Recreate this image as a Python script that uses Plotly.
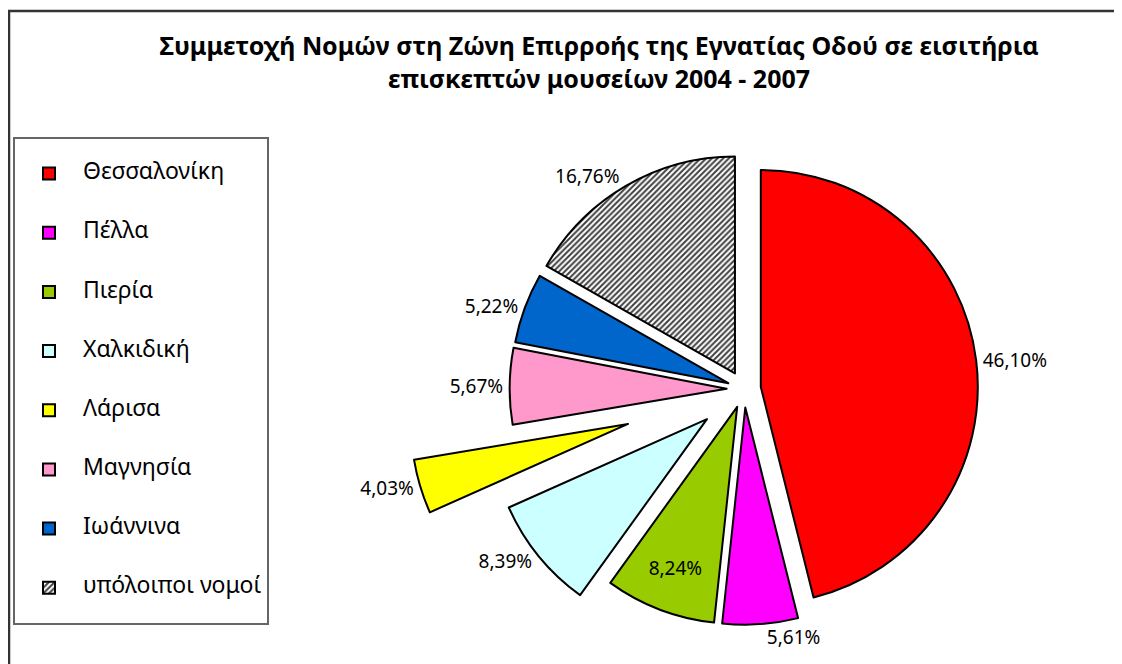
import plotly.graph_objects as go

# ---- data ----
labels = ["Θεσσαλονίκη", "Πέλλα", "Πιερία", "Χαλκιδική", "Λάρισα",
          "Μαγνησία", "Ιωάννινα", "υπόλοιποι νομοί"]
values = [46.10, 5.61, 8.24, 8.39, 4.03, 5.67, 5.22, 16.76]
title_lines = ["Συμμετοχή Νομών στη Ζώνη Επιρροής της Εγνατίας Οδού σε εισιτήρια",
               "επισκεπτών μουσείων 2004 - 2007"]

# ---- styling ----
colors = ["#FF0000", "#FF00FF", "#99CC00", "#CCFFFF", "#FFFF00",
          "#FF99CC", "#0066CC", "#B0B0B0"]
patterns = ["", "", "", "", "", "", "", "/"]
pulls = [0.078, 0.086, 0.088, 0.22, 0.558, 0.08, 0.077, 0.083]
textpos = ["outside", "outside", "inside", "outside", "outside",
           "outside", "outside", "outside"]

OFF = 8  # page body margin
W, H = 1122, 778
cx, cy, r = 744 - OFF, 389 - OFF, 217
half = r * (1 + max(pulls))
dom_x = [(cx - half) / W, (cx + half) / W]
dom_y = [1 - (cy + half) / H, 1 - (cy - half) / H]

FONT = "Noto Sans"
leg_labels = [f"<br><span style='font-size:23px'>{l}</span><br>" for l in labels]

fig = go.Figure(go.Pie(
    labels=leg_labels,
    values=values,
    sort=False,
    direction="clockwise",
    rotation=0,
    pull=pulls,
    marker=dict(colors=colors, line=dict(color="black", width=2),
                pattern=dict(shape=patterns, fgcolor="#404040", size=4, solidity=0.5)),
    texttemplate="%{value:.2f}%",
    textposition=textpos,
    insidetextorientation="horizontal",
    textfont=dict(family=FONT, size=19, color="black"),
    outsidetextfont=dict(family=FONT, size=19, color="black"),
    insidetextfont=dict(family=FONT, size=19, color="black"),
    automargin=False,
    domain=dict(x=dom_x, y=dom_y),
    hoverinfo="skip",
))

fig.update_layout(
    width=W, height=H,
    margin=dict(l=0, r=0, t=0, b=0),
    paper_bgcolor="white",
    separators=",.",
    title=dict(text="<br>".join(title_lines), x=(599 - OFF) / W, xanchor="center",
               y=1 - 47 / H, yanchor="middle", yref="container",
               font=dict(family=FONT, size=25, color="black", weight="bold")),
    legend=dict(x=(13 - OFF) / W, y=1 - (137 - OFF) / H, xanchor="left", yanchor="top",
                bordercolor="#666666", borderwidth=2, bgcolor="white",
                font=dict(family=FONT, size=14.4, color="black"),
                itemwidth=58, tracegroupgap=0),
    shapes=[dict(type="rect", xref="paper", yref="paper",
                 x0=1 / W, x1=1.02, y0=-0.02, y1=1 - (11 - OFF) / H,
                 line=dict(color="#333333", width=2.5), layer="below")],
)

fig.write_html("out.html")
